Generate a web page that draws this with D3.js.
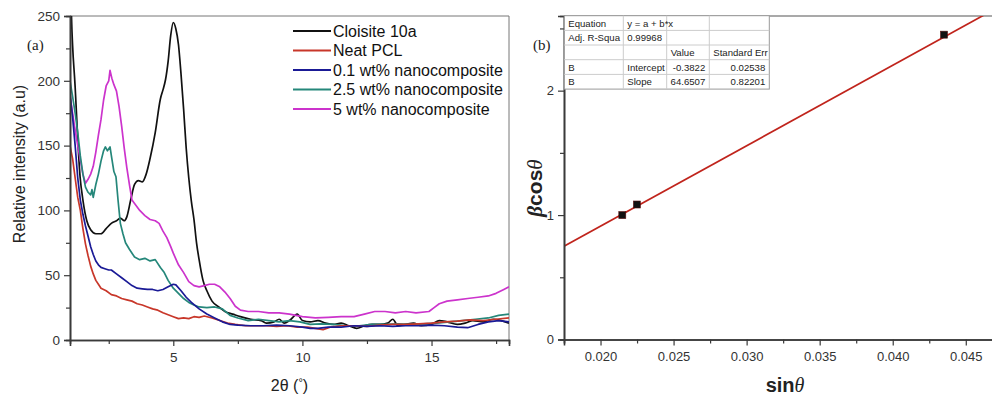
<!DOCTYPE html>
<html><head><meta charset="utf-8">
<script src="https://cdn.jsdelivr.net/npm/d3@7"></script>
<style>
html,body{margin:0;padding:0;background:#fff;}
svg{display:block;font-family:"Liberation Sans",Arial,sans-serif;}
</style></head>
<body>
<svg id="chart" width="992" height="397"></svg>
<script>
// ---------- Panel (a) data : XRD patterns ----------
const seriesNames = ["Cloisite 10a","Neat PCL","0.1 wt% nanocomposite","2.5 wt% nanocomposite","5 wt% nanocomposite"];
const seriesColors = ["#111111","#c8372a","#1a1a96","#25877a","#cc33cc"];

const cloisiteX = [1.0,1.05,1.2,1.39,1.5,1.65,1.8,2.0,2.2,2.4,2.6,2.8,2.95,3.1,3.2,3.35,3.5,3.65,3.8,3.95,4.1,4.3,4.5,4.6,4.7,4.8,4.9,5.0,5.1,5.2,5.3,5.4,5.5,5.6,5.7,5.8,5.9,6.0,6.15,6.3,6.5,6.8,7.0,7.3,7.6,8.0,8.4,8.6,8.9,9.1,9.3,9.5,9.8,10.0,10.3,10.6,10.9,11.2,11.5,11.8,12.1,12.4,12.7,13.0,13.3,13.5,13.7,14.0,14.3,14.6,15.0,15.3,15.6,16.0,16.3,16.6,17.0,17.4,17.7,18.0];
const cloisiteY = [300,255,195,126,108,92,85,82,82,86,90,92,94,92,95,108,120,123,122,128,140,160,186,193,201,215,235,245,240,228,205,178,148,125,107,93,75,62,46,38,30,25,22,20,18,16,15,13,14,16,13,15,20,15,14,15,13,12,13,11,9,11,12,12,13,16,11,12,13,11,12,15,14,12,13,15,14,16,15,13];

const pclX = [1.0,1.1,1.2,1.3,1.4,1.5,1.6,1.7,1.8,1.9,2.0,2.1,2.2,2.4,2.6,2.8,3.0,3.2,3.4,3.6,3.8,4.0,4.2,4.4,4.6,4.8,5.0,5.2,5.4,5.6,5.8,6.0,6.2,6.5,6.8,7.1,7.4,7.8,8.2,8.6,9.0,9.4,9.8,10.2,10.5,10.8,11.1,11.5,12.0,12.5,13.0,13.5,14.0,14.5,15.0,15.5,16.0,16.5,17.0,17.5,18.0];
const pclY = [150,140,125,110,100,86,74,65,57,51,46,43,40,38,35,34,32,31,30,28,27,25.5,24,23,21,19.5,18,16.5,17,16.5,18,17.5,18.5,17,15,13,12,11,11,11,10.5,11,10,10,9,8,10,11,11,10.5,11.5,12,12,12.5,13,14,14.5,15.5,15,16,17];

const pct01X = [1.0,1.1,1.2,1.3,1.4,1.5,1.6,1.7,1.8,1.9,2.0,2.1,2.2,2.35,2.5,2.6,2.8,3.0,3.2,3.4,3.6,3.8,4.0,4.2,4.4,4.6,4.8,5.0,5.1,5.3,5.5,5.7,6.0,6.3,6.6,6.9,7.2,7.5,8.0,8.5,9.0,9.5,10.0,10.3,10.6,11.0,11.5,12.0,12.5,13.0,13.5,14.0,14.5,15.0,15.5,16.0,16.4,16.8,17.2,17.6,18.0];
const pct01Y = [190,172,150,125,108,97,88,80,72,66,61,58,56,55,54,54,51,48,45,42,40,39.5,39,39,38,39,41,43,42.5,38,33,29,24,20,17,14,12,11.5,11,11,11.5,11,10,9,9,10,10,11,10.5,11,10.5,11,11,11.5,11,10,9.5,12,14,15,14];

const pct25X = [1.0,1.1,1.2,1.3,1.4,1.5,1.6,1.7,1.8,1.85,1.9,2.0,2.1,2.2,2.3,2.37,2.45,2.55,2.62,2.7,2.78,2.86,2.95,3.05,3.15,3.3,3.5,3.7,3.9,4.1,4.3,4.5,4.65,4.8,5.0,5.2,5.4,5.6,5.8,6.0,6.3,6.6,6.9,7.2,7.5,7.9,8.3,8.7,9.1,9.5,9.9,10.3,10.7,11.2,11.7,12.2,12.7,13.2,13.7,14.2,14.7,15.2,15.7,16.2,16.7,17.2,17.6,18.0];
const pct25Y = [200,188,175,160,142,128,118,114,112,116,110,120,128,138,146,149,146,149,140,130,126,108,90,82,75,70,64,62,63,61,62,56,52,46,40,36,32,29,27,25.5,25,25.5,24,19,17,15,16,15,14,15,14,12,12.5,12,11,11,12,12,12.5,12,12.5,13,14,15,16,17,19,20];

const pct5X = [1.0,1.1,1.2,1.3,1.4,1.5,1.6,1.7,1.8,1.9,2.0,2.1,2.2,2.3,2.4,2.5,2.55,2.62,2.7,2.8,2.9,3.0,3.1,3.2,3.3,3.4,3.55,3.7,3.9,4.1,4.3,4.45,4.6,4.75,4.9,5.0,5.2,5.4,5.6,5.8,6.0,6.2,6.4,6.6,6.8,7.0,7.2,7.4,7.6,7.9,8.3,8.7,9.1,9.5,10.0,10.5,11.0,11.5,12.0,12.4,12.8,13.2,13.6,14.0,14.4,14.9,15.1,15.3,15.6,16.0,16.4,16.8,17.2,17.5,17.8,18.0];
const pct5Y = [188,175,162,150,139,128,121,124,128,134,145,158,170,185,196,200,208,202,197,192,180,165,148,133,120,108,104,100,96,93,92,90,84,79,72,67,58,52,45,42,41,42,43,43,41,37,32,26,23,22,22,21,21,20,18,17,17.5,18,18,20,22,22,21,22,21,22,25,28,30,31,32,33,34,36,39,41];

const xTicksA = [5,10,15];
const yTicksA = [0,50,100,150,200,250];

// ---------- Panel (b) data : Williamson-Hall ----------
const sinTheta = [0.02149,0.02249,0.04351];
const betaCos = [1.0,1.085,2.45];
const fitIntercept = -0.3822;
const fitSlope = 64.6507;
const xTicksB = [0.020,0.025,0.030,0.035,0.040,0.045];
const yTicksB = [0,1,2];
const tableRows = [
  ["Equation","y = a + b*x","",""],
  ["Adj. R-Squa","0.99968","",""],
  ["","","Value","Standard Err"],
  ["B","Intercept","-0.3822","0.02538"],
  ["B","Slope","64.6507","0.82201"]
];

const svg = d3.select("#chart");
const axisColor = "#3a3a3a";
const tickFont = "13.5px";

// ================= Panel (a) =================
const xA = d3.scaleLinear().domain([1,18]).range([70,509]);
const yA = d3.scaleLinear().domain([0,250]).range([340,16]);

svg.append("clipPath").attr("id","clipA").append("rect")
  .attr("x",70).attr("y",16).attr("width",439).attr("height",324);

// frame top/right
svg.append("line").attr("x1",70).attr("x2",509).attr("y1",16).attr("y2",16).attr("stroke","#777").attr("stroke-width",1);
svg.append("line").attr("x1",509).attr("x2",509).attr("y1",16).attr("y2",340).attr("stroke","#777").attr("stroke-width",1);

const series = [
  {x:cloisiteX,y:cloisiteY,i:0,curve:d3.curveMonotoneX},
  {x:pct5X,y:pct5Y,i:4,curve:d3.curveLinear},
  {x:pct25X,y:pct25Y,i:3,curve:d3.curveLinear},
  {x:pclX,y:pclY,i:1,curve:d3.curveLinear},
  {x:pct01X,y:pct01Y,i:2,curve:d3.curveLinear}
];
const gLines = svg.append("g").attr("clip-path","url(#clipA)");
series.forEach(s=>{
  const pts = s.x.map((v,k)=>[v,s.y[k]]);
  gLines.append("path").datum(pts)
    .attr("fill","none").attr("stroke",seriesColors[s.i]).attr("stroke-width",1.7)
    .attr("stroke-linejoin","round")
    .attr("d",d3.line().x(d=>xA(d[0])).y(d=>yA(d[1])).curve(s.curve));
});

function styleAxis(g){
  g.selectAll(".domain").attr("stroke",axisColor).attr("stroke-width",1.6);
  g.selectAll(".tick line").attr("stroke",axisColor).attr("stroke-width",1.2);
  g.selectAll("text").attr("fill","#333").style("font-size",tickFont).style("font-family","'Liberation Sans',Arial,sans-serif");
}
// minor ticks
const gxAm = svg.append("g").attr("transform","translate(0,340)")
  .call(d3.axisBottom(xA).tickValues([2.5,7.5,12.5,17.5]).tickSize(4).tickFormat(""));
styleAxis(gxAm);
const gyAm = svg.append("g").attr("transform","translate(70,0)")
  .call(d3.axisLeft(yA).tickValues([25,75,125,175,225]).tickSize(4).tickFormat(""));
styleAxis(gyAm);
const gxA = svg.append("g").attr("transform","translate(0,340)")
  .call(d3.axisBottom(xA).tickValues(xTicksA).tickSize(6).tickPadding(6).tickFormat(d3.format("d")));
styleAxis(gxA);
const gyA = svg.append("g").attr("transform","translate(70,0)")
  .call(d3.axisLeft(yA).tickValues(yTicksA).tickSize(6).tickPadding(4).tickFormat(d3.format("d")));
styleAxis(gyA);

// legend
const leg = svg.append("g");
seriesNames.forEach((n,k)=>{
  const cy = 31 + k*19.5;
  leg.append("line").attr("x1",293).attr("x2",331).attr("y1",cy).attr("y2",cy)
    .attr("stroke",seriesColors[k]).attr("stroke-width",1.8);
  leg.append("text").attr("x",333).attr("y",cy+5.5).text(n)
    .style("font-size","16px").attr("fill","#111");
});

svg.append("text").attr("x",27).attr("y",50).text("(a)")
  .style("font-family","'Liberation Serif','Times New Roman',serif").style("font-size","15px").attr("fill","#222");

svg.append("text").attr("transform","translate(25,164) rotate(-90)").attr("text-anchor","middle")
  .text("Relative intensity (a.u)").style("font-size","16px").attr("fill","#222");

const xtA = svg.append("text").attr("x",289.5).attr("y",391).attr("text-anchor","middle")
  .style("font-size","16px").attr("fill","#222");
xtA.append("tspan").text("2θ (");
xtA.append("tspan").attr("dy",-5).style("font-size","11px").text("°");
xtA.append("tspan").attr("dy",5).text(")");

// ================= Panel (b) =================
const xB = d3.scaleLinear().domain([0.0175,0.0470]).range([564,995]);
const yB = d3.scaleLinear().domain([0,2.6]).range([339.5,16]);

svg.append("clipPath").attr("id","clipB").append("rect")
  .attr("x",564).attr("y",16).attr("width",431).attr("height",323.5);

svg.append("line").attr("x1",564).attr("x2",995).attr("y1",16).attr("y2",16).attr("stroke","#555").attr("stroke-width",1.2);

// fit line
const fitX = xB.domain();
svg.append("g").attr("clip-path","url(#clipB)").append("path")
  .datum(fitX.map(x=>[x,fitIntercept+fitSlope*x]))
  .attr("fill","none").attr("stroke","#c0241c").attr("stroke-width",1.7)
  .attr("d",d3.line().x(d=>xB(d[0])).y(d=>yB(d[1])));

// points
svg.append("g").selectAll("rect").data(sinTheta.map((x,k)=>[x,betaCos[k]])).join("rect")
  .attr("x",d=>xB(d[0])-3.5).attr("y",d=>yB(d[1])-3.5).attr("width",7).attr("height",7)
  .attr("fill","#111").attr("stroke","#5a1010").attr("stroke-width",0.6);

const gxBm = svg.append("g").attr("transform","translate(0,339.5)")
  .call(d3.axisBottom(xB).tickValues([0.0175,0.0225,0.0275,0.0325,0.0375,0.0425]).tickSize(4).tickFormat(""));
styleAxis(gxBm);
const gyBm = svg.append("g").attr("transform","translate(564,0)")
  .call(d3.axisLeft(yB).tickValues([0.5,1.5,2.5]).tickSize(4).tickFormat(""));
styleAxis(gyBm);
const gxB = svg.append("g").attr("transform","translate(0,339.5)")
  .call(d3.axisBottom(xB).tickValues(xTicksB).tickSize(6).tickPadding(6).tickFormat(d3.format(".3f")));
styleAxis(gxB);
gxB.selectAll("text").style("font-size","13px");
const gyB = svg.append("g").attr("transform","translate(564,0)")
  .call(d3.axisLeft(yB).tickValues(yTicksB).tickSize(6).tickPadding(4).tickFormat(d3.format("d")));
styleAxis(gyB);
gyB.selectAll("text").style("font-size","13px");

// table
const colX = [564.3,623.3,666.7,709.3,769.3];
const rowY = [15.7,30.4,45,59.7,74.4,89.1];
const tbl = svg.append("g");
tbl.append("rect").attr("x",colX[0]).attr("y",rowY[0]).attr("width",colX[4]-colX[0]).attr("height",rowY[5]-rowY[0])
  .attr("fill","#fff").attr("stroke","#999").attr("stroke-width",1);
rowY.slice(1,5).forEach(y=>tbl.append("line").attr("x1",colX[0]).attr("x2",colX[4]).attr("y1",y).attr("y2",y).attr("stroke","#ccc"));
colX.slice(1,4).forEach(x=>tbl.append("line").attr("x1",x).attr("x2",x).attr("y1",rowY[0]).attr("y2",rowY[5]).attr("stroke","#ccc"));
tableRows.forEach((row,r)=>{
  row.forEach((t,c)=>{
    if(!t) return;
    const rightAlign = (r>=3 && c>=2);
    tbl.append("text")
      .attr("x", rightAlign ? colX[c+1]-4 : colX[c]+4)
      .attr("y", rowY[r]+10.8)
      .attr("text-anchor", rightAlign ? "end" : "start")
      .style("font-size","9.6px").attr("fill","#222").text(t);
  });
});

svg.append("text").attr("x",533).attr("y",50).text("(b)")
  .style("font-family","'Liberation Serif','Times New Roman',serif").style("font-size","15px").attr("fill","#222");

const ytB = svg.append("text").attr("transform","translate(542,188) rotate(-90)").attr("text-anchor","middle")
  .style("font-size","21px").style("font-weight","bold").attr("fill","#222");
ytB.append("tspan").style("font-style","italic").style("font-family","'Liberation Serif',serif").text("β");
ytB.append("tspan").text("cos");
ytB.append("tspan").style("font-style","italic").style("font-weight","normal").style("font-family","'Liberation Serif',serif").text("θ");

const xtB = svg.append("text").attr("x",785).attr("y",392).attr("text-anchor","middle")
  .style("font-size","20px").style("font-weight","bold").attr("fill","#222");
xtB.append("tspan").text("sin");
xtB.append("tspan").style("font-style","italic").style("font-weight","normal").style("font-family","'Liberation Serif',serif").text("θ");
</script>
</body></html>
